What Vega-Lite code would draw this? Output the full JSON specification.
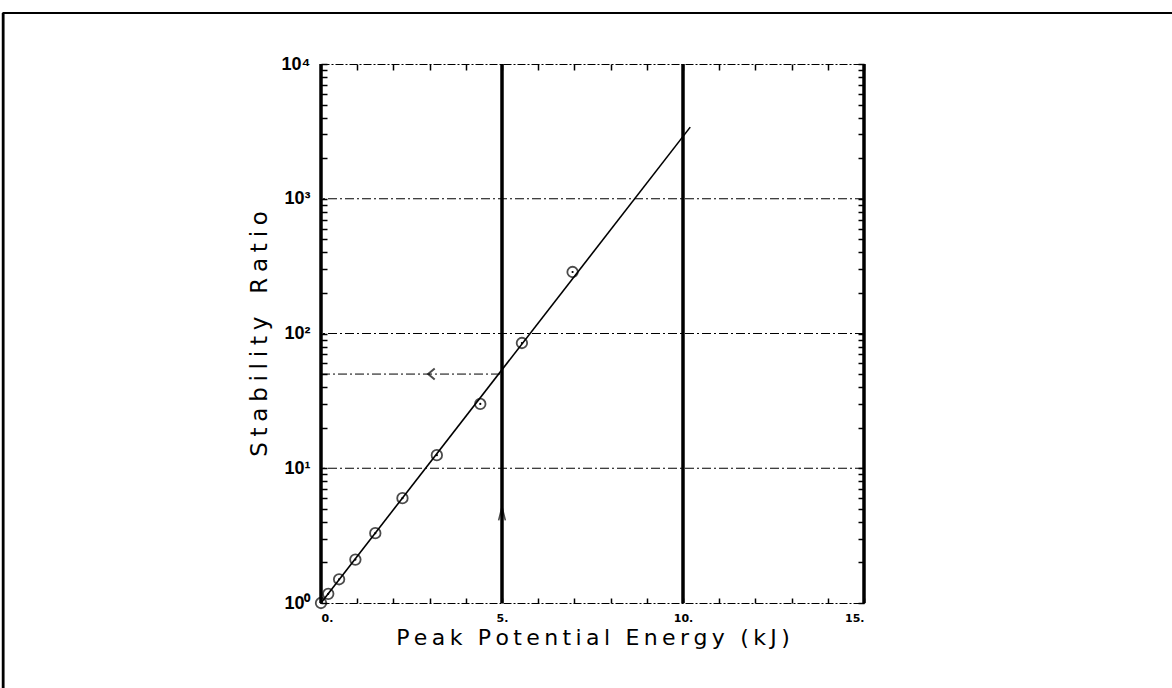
{
  "$schema": "https://vega.github.io/schema/vega-lite/v6.json",
  "width": 543,
  "height": 539,
  "autosize": "none",
  "padding": {"left": 321, "top": 64, "right": 308, "bottom": 85},
  "background": "white",
  "config": {
    "view": {"stroke": null},
    "axis": {"labelColor": "black", "titleColor": "black", "tickColor": "black", "domainColor": "black"}
  },
  "datasets": {
    "measured": [
      {"energy": 0.0, "ratio": 1.0},
      {"energy": 0.2, "ratio": 1.17},
      {"energy": 0.5, "ratio": 1.5},
      {"energy": 0.95, "ratio": 2.1},
      {"energy": 1.5, "ratio": 3.3},
      {"energy": 2.25, "ratio": 6.0},
      {"energy": 3.2, "ratio": 12.5},
      {"energy": 4.4, "ratio": 30},
      {"energy": 5.55, "ratio": 85},
      {"energy": 6.95, "ratio": 286}
    ],
    "fit": [
      {"energy": 0.0, "ratio": 1.0},
      {"energy": 10.2, "ratio": 3400}
    ],
    "majorX": [{"energy": 0}, {"energy": 5}, {"energy": 10}, {"energy": 15}],
    "decades": [{"ratio": 10}, {"ratio": 100}, {"ratio": 1000}],
    "readout": [{"energy": 0, "ratio": 50}, {"energy": 5, "ratio": 50}],
    "pageTop": [{"energy": -8.8, "ratio": 23900}, {"energy": 23.6, "ratio": 23900}],
    "pageLeft": [{"energy": -8.78, "ratio": 23900}, {"energy": -8.78, "ratio": 0.2}]
  },
  "resolve": {"axis": {"x": "independent", "y": "independent"}},
  "layer": [
    {
      "data": {"name": "decades"},
      "mark": {"type": "rule", "color": "black", "strokeWidth": 1, "strokeDash": [9, 3, 2, 3]},
      "encoding": {
        "y": {
          "field": "ratio", "type": "quantitative",
          "scale": {"type": "log", "domain": [1, 10000], "nice": false},
          "axis": {
            "orient": "left",
            "values": [1,2,3,4,5,6,7,8,9,10,20,30,40,50,60,70,80,90,100,200,300,400,500,600,700,800,900,1000,2000,3000,4000,5000,6000,7000,8000,9000,10000],
            "labelExpr": "datum.value == 1 ? '10⁰' : datum.value == 10 ? '10¹' : datum.value == 100 ? '10²' : datum.value == 1000 ? '10³' : datum.value == 10000 ? '10⁴' : ''",
            "labelFont": "Liberation Sans", "labelFontWeight": "bold", "labelFontSize": 18,
            "labelPadding": 17,
            "tickSize": -6, "tickWidth": 1.5,
            "domain": false, "grid": false,
            "title": "S\u2005t\u2005a\u2005b\u2005i\u2005l\u2005i\u2005t\u2005y\u2003R\u2005a\u2005t\u2005i\u2005o",
            "titleFont": "DejaVu Sans", "titleFontSize": 23, "titleFontWeight": "normal",
            "titlePadding": 10
          }
        }
      }
    },
    {
      "data": {"name": "majorX"},
      "mark": {"type": "rule", "color": "black", "strokeWidth": 3.5},
      "encoding": {
        "x": {
          "field": "energy", "type": "quantitative",
          "scale": {"domain": [0, 15], "nice": false},
          "axis": {
            "orient": "bottom",
            "values": [0,1,2,3,4,5,6,7,8,9,10,11,12,13,14,15],
            "labelExpr": "datum.value % 5 == 0 ? datum.value + '.' : ''",
            "labelFont": "DejaVu Sans", "labelFontWeight": "bold", "labelFontSize": 11,
            "labelPadding": 14,
            "tickSize": -5, "tickWidth": 1.5,
            "domain": true, "domainWidth": 1.2, "domainDash": [8, 2, 2, 2],
            "grid": false,
            "title": "P\u2009e\u2009a\u2009k\u2002\u2009P\u2009o\u2009t\u2009e\u2009n\u2009t\u2009i\u2009a\u2009l\u2002\u2009E\u2009n\u2009e\u2009r\u2009g\u2009y\u2002\u2009(\u2009k\u2009J\u2009)",
            "titleFont": "DejaVu Sans", "titleFontSize": 22, "titleFontWeight": "normal",
            "titlePadding": 4
          }
        }
      }
    },
    {
      "data": {"name": "majorX"},
      "mark": {"type": "rule", "color": "black", "strokeWidth": 0, "opacity": 0},
      "encoding": {
        "x": {
          "field": "energy", "type": "quantitative",
          "scale": {"domain": [0, 15], "nice": false},
          "axis": {
            "orient": "top",
            "values": [0,1,2,3,4,5,6,7,8,9,10,11,12,13,14,15],
            "labels": false, "tickSize": -6, "tickWidth": 1.5,
            "domain": true, "domainWidth": 1.2, "domainDash": [8, 2, 2, 2],
            "grid": false, "title": null
          }
        },
        "y": {
          "datum": 1, "type": "quantitative",
          "scale": {"type": "log", "domain": [1, 10000], "nice": false},
          "axis": {
            "orient": "right",
            "values": [1,2,3,4,5,6,7,8,9,10,20,30,40,50,60,70,80,90,100,200,300,400,500,600,700,800,900,1000,2000,3000,4000,5000,6000,7000,8000,9000,10000],
            "labels": false, "tickSize": -6, "tickWidth": 1.5,
            "domain": false, "grid": false, "title": null
          }
        }
      }
    },
    {
      "data": {"name": "pageTop"},
      "mark": {"type": "line", "color": "black", "strokeWidth": 2.2, "clip": false},
      "encoding": {
        "x": {"field": "energy", "type": "quantitative", "axis": null},
        "y": {"field": "ratio", "type": "quantitative", "axis": null}
      }
    },
    {
      "data": {"name": "pageLeft"},
      "mark": {"type": "line", "color": "black", "strokeWidth": 2.8, "clip": false},
      "encoding": {
        "x": {"field": "energy", "type": "quantitative", "axis": null},
        "y": {"field": "ratio", "type": "quantitative", "axis": null}
      }
    },
    {
      "data": {"name": "readout"},
      "mark": {"type": "line", "color": "black", "strokeWidth": 1, "strokeDash": [9, 3, 2, 3]},
      "encoding": {
        "x": {"field": "energy", "type": "quantitative", "axis": null},
        "y": {"field": "ratio", "type": "quantitative", "axis": null}
      }
    },
    {
      "data": {"name": "fit"},
      "mark": {"type": "line", "color": "black", "strokeWidth": 1.6},
      "encoding": {
        "x": {"field": "energy", "type": "quantitative", "axis": null},
        "y": {"field": "ratio", "type": "quantitative", "axis": null}
      }
    },
    {
      "data": {"name": "measured"},
      "mark": {"type": "point", "shape": "circle", "filled": false, "color": "black", "strokeWidth": 1.8, "size": 110},
      "encoding": {
        "x": {"field": "energy", "type": "quantitative", "axis": null},
        "y": {"field": "ratio", "type": "quantitative", "axis": null}
      }
    },
    {
      "data": {"name": "measured"},
      "mark": {"type": "point", "shape": "circle", "filled": true, "color": "black", "size": 5, "opacity": 1},
      "encoding": {
        "x": {"field": "energy", "type": "quantitative", "axis": null},
        "y": {"field": "ratio", "type": "quantitative", "axis": null}
      }
    },
    {
      "data": {"values": [{"energy": 3.05, "ratio": 50}]},
      "mark": {"type": "point", "shape": "M 0.6 -1 L -0.6 0 L 0.6 1", "filled": false, "color": "black", "strokeWidth": 2, "size": 120},
      "encoding": {
        "x": {"field": "energy", "type": "quantitative", "axis": null},
        "y": {"field": "ratio", "type": "quantitative", "axis": null}
      }
    },
    {
      "data": {"values": [{"energy": 5, "ratio": 4.6}]},
      "mark": {"type": "point", "shape": "M -0.5 1 L 0 -1 L 0.5 1", "filled": false, "color": "black", "strokeWidth": 1.6, "size": 180},
      "encoding": {
        "x": {"field": "energy", "type": "quantitative", "axis": null},
        "y": {"field": "ratio", "type": "quantitative", "axis": null}
      }
    }
  ]
}
